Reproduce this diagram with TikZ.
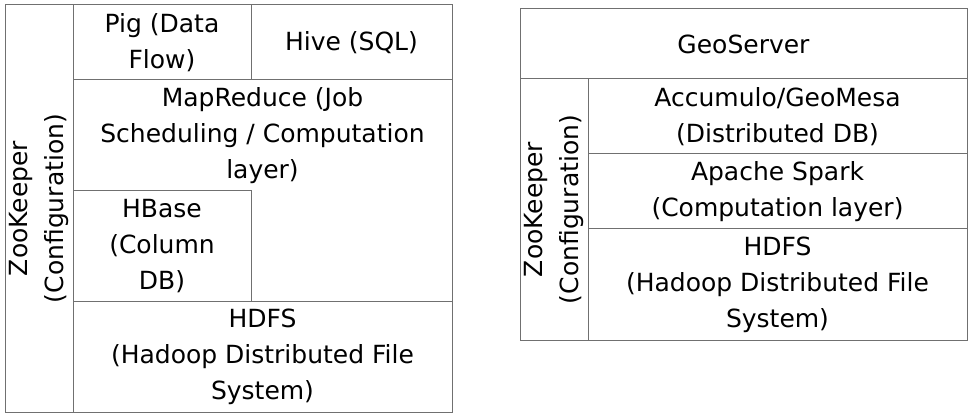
\documentclass[tikz,border=0pt]{standalone}
\usepackage{fontspec}
\setmainfont{DejaVu Sans}
\usetikzlibrary{positioning}
\definecolor{edge}{HTML}{707070}

\begin{document}
\begin{tikzpicture}[
  x=1pt, y=-1pt,
  layer/.style={rectangle, draw=edge, line width=1pt, anchor=north west, inner sep=0pt, outer sep=0pt, align=center, font={\fontsize{25}{36}\selectfont}},
  side/.style={layer, anchor=center, minimum width=0pt, minimum height=0pt, draw=none, rotate=90}
]
  \useasboundingbox (0,0) rectangle (973,419);

  % Hadoop stack
  \node[layer, minimum width=68pt, minimum height=407pt] (zoo) at (5,5) {};
  \node[side] at (zoo.center) {ZooKeeper\\(Configuration)};
  \node[layer, minimum width=178pt, minimum height=75pt] (pig) at (73,5) {Pig (Data\\Flow)};
  \node[layer, minimum width=201pt, minimum height=75pt] (hive) at (251,5) {Hive (SQL)};
  \node[layer, draw=none, minimum width=379pt, minimum height=111pt] (mapred) at (73,80) {MapReduce (Job\\Scheduling / Computation\\layer)};
  \node[layer, minimum width=178pt, minimum height=110pt] (hbase) at (73,191) {HBase\\(Column\\DB)};
  \node[layer, minimum width=379pt, minimum height=111pt] (hdfs) at (73,301) {HDFS\\(Hadoop Distributed File\\System)};
  \draw[edge, line width=1pt] (mapred.north west) -- (mapred.north east) -- (hdfs.north east);

  % GeoMesa stack
  \node[layer, minimum width=447pt, minimum height=70pt] (geo) at (520,9) {GeoServer};
  \node[layer, minimum width=68pt, minimum height=261pt] (zootwo) at (520,79) {};
  \node[side] at (zootwo.center) {ZooKeeper\\(Configuration)};
  \node[layer, minimum width=379pt, minimum height=75pt] (accumulo) at (588,79) {Accumulo/GeoMesa\\(Distributed DB)};
  \node[layer, minimum width=379pt, minimum height=75pt] (spark) at (588,154) {Apache Spark\\(Computation layer)};
  \node[layer, minimum width=379pt, minimum height=111pt] (hdfstwo) at (588,229) {HDFS\\(Hadoop Distributed File\\System)};
\end{tikzpicture}
\end{document}
